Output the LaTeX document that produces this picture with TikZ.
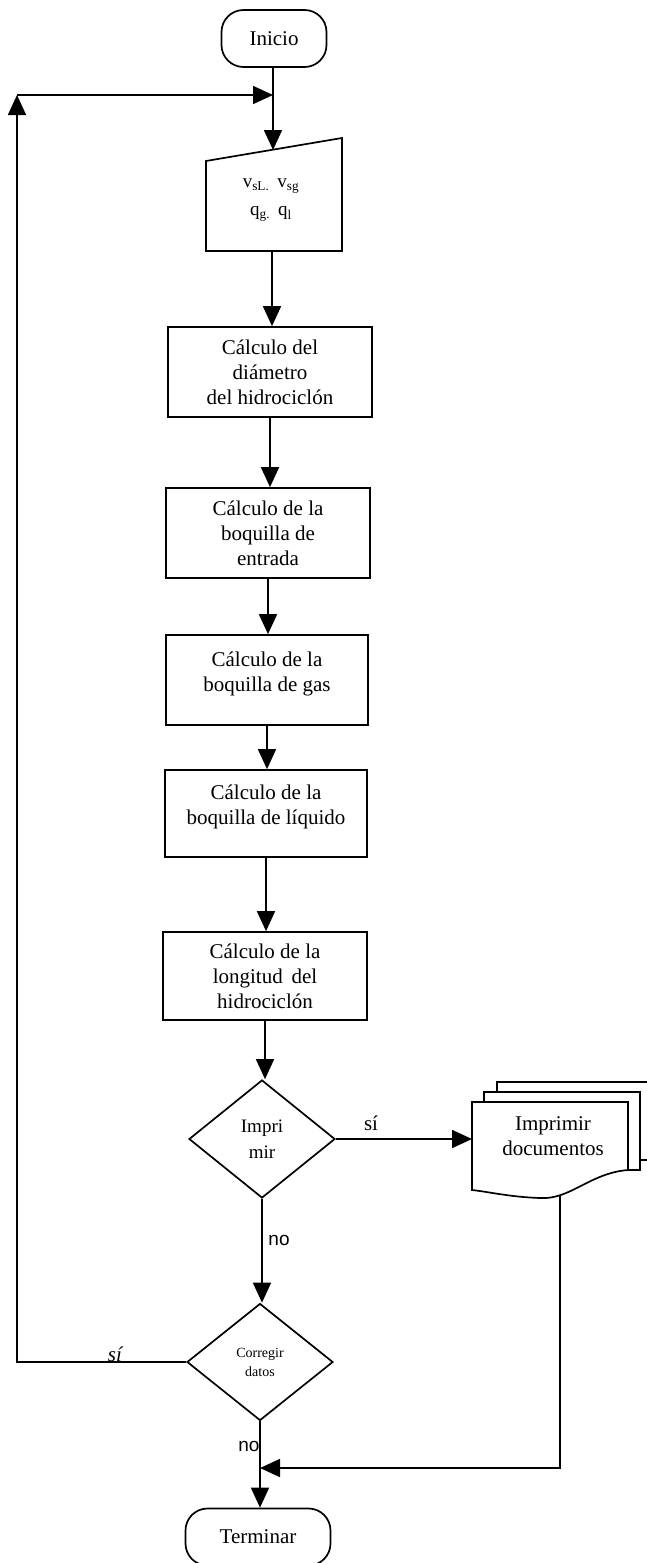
\documentclass[tikz,border=0pt]{standalone}
\usepackage{fontspec}
\setmainfont{Liberation Serif}
\newfontfamily\labsans{Liberation Sans}
\usetikzlibrary{arrows.meta,shapes.geometric}
\begin{document}
\begin{tikzpicture}[x=1pt,y=-1pt,line width=1.7pt,
  arr/.style={-{Triangle[length=20pt,width=18pt]}},
  boxtxt/.style={font=\fontsize{21}{25}\selectfont,align=center,inner sep=0pt},
  procbox/.style={draw,rectangle,inner sep=0pt,align=center,font=\fontsize{21}{25}\selectfont},
  termbox/.style={draw,rectangle,rounded corners=22pt,inner sep=0pt,font=\fontsize{21}{25}\selectfont},
  decbox/.style={draw,diamond,inner sep=0pt,align=center},
  lab/.style={inner sep=0pt,font=\fontsize{21}{25}\selectfont},
  labno/.style={inner sep=0pt,font=\labsans\fontsize{19}{23}\selectfont}
]
\useasboundingbox (0,0) rectangle (646,1563);
\fill[white] (0,0) rectangle (646,1563);

% terminals
\node[termbox,minimum width=105pt,minimum height=57pt] (ini) at (274,38.5) {Inicio};
\node[termbox,minimum width=145pt,minimum height=57pt] (fin) at (258,1537) {Terminar};

% manual input
\draw (206,161) -- (342,138) -- (342,251) -- (206,251) -- cycle;
\coordinate (inptop) at (273,150);
\coordinate (inpbot) at (272,251);
\node[inner sep=0pt,font=\fontsize{19}{23}\selectfont] (inpa) at (271,186) {v\textsubscript{sL.}\, v\textsubscript{sg}};
\node[inner sep=0pt,font=\fontsize{19}{23}\selectfont] (inpb) at (271,214) {q\textsubscript{g.}\, q\textsubscript{l}};

% process boxes
\node[procbox,minimum width=204pt,minimum height=90pt] (b2) at (270,372) {Cálculo del\\diámetro\\del hidrociclón};
\node[procbox,minimum width=204pt,minimum height=90pt] (b3) at (268,533) {Cálculo de la\\boquilla de\\entrada};
\node[procbox,minimum width=202pt,minimum height=90pt] (b4) at (267,680) {};
\node[boxtxt] (b4t) at (267,674) {Cálculo de la\\boquilla de gas};
\node[procbox,minimum width=202pt,minimum height=87pt] (b5) at (266,813.5) {};
\node[boxtxt] (b5t) at (266,807) {Cálculo de la\\boquilla de líquido};
\node[procbox,minimum width=204pt,minimum height=88pt] (b6) at (265,976) {Cálculo de la\\longitud\, del\\hidrociclón};

% decisions
\node[decbox,minimum width=146pt,minimum height=118pt,font=\fontsize{19}{26}\selectfont] (d1) at (262,1139) {Impri\\mir};
\node[decbox,minimum width=146pt,minimum height=117pt,font=\fontsize{14}{19}\selectfont] (d2) at (260,1362) {Corregir\\datos};

% multi-document
\draw[fill=white] (497,1082) -- (660,1082) -- (660,1160) -- (497,1160) -- cycle;
\draw[fill=white] (484,1092) -- (640,1092) -- (640,1170) -- (484,1170) -- cycle;
\draw[fill=white] (472,1102) -- (628,1102) -- (628,1170)
   .. controls (590,1173) and (570,1200) .. (540,1198)
   .. controls (510,1197) and (490,1192) .. (472,1190) -- cycle;
\node[boxtxt] (doc) at (553,1136) {Imprimir\\documentos};
\coordinate (docl) at (472,1139);
\coordinate (docb) at (560,1196);

% connectors
\coordinate (join) at (273,95);
\coordinate (tl) at (17,95);
\coordinate (bl) at (17,1362);
\coordinate (mg) at (260,1468);
\draw[arr] (inptop |- ini.south) -- (inptop);
\draw[arr] (inpbot) -- (inpbot |- b2.north);
\draw[arr] (b2.south) -- (b2.south |- b3.north);
\draw[arr] (b3.south) -- (b3.south |- b4.north);
\draw[arr] (b4.south) -- (b4.south |- b5.north);
\draw[arr] (b5.south) -- (b5.south |- b6.north);
\draw[arr] (b6.south) -- (b6.south |- d1.north);
\draw[arr] (d1.east) -- (docl);
\draw[arr] (d1.south) -- (d1.south |- d2.north);
\draw[arr] (d2.west) -- (bl) -- (tl);
\draw[arr] (tl) -- (join);
\draw[arr] (d2.south) -- (d2.south |- fin.north);
\draw[arr] (docb) |- (mg);

% labels
\node[lab] (lsi1) at (371,1123) {sí};
\node[lab,font=\itshape\fontsize{21}{25}\selectfont] (lsi2) at (115,1354) {sí};
\node[labno] (lno1) at (279,1240) {no};
\node[labno] (lno2) at (249,1446) {no};
\end{tikzpicture}
\end{document}
